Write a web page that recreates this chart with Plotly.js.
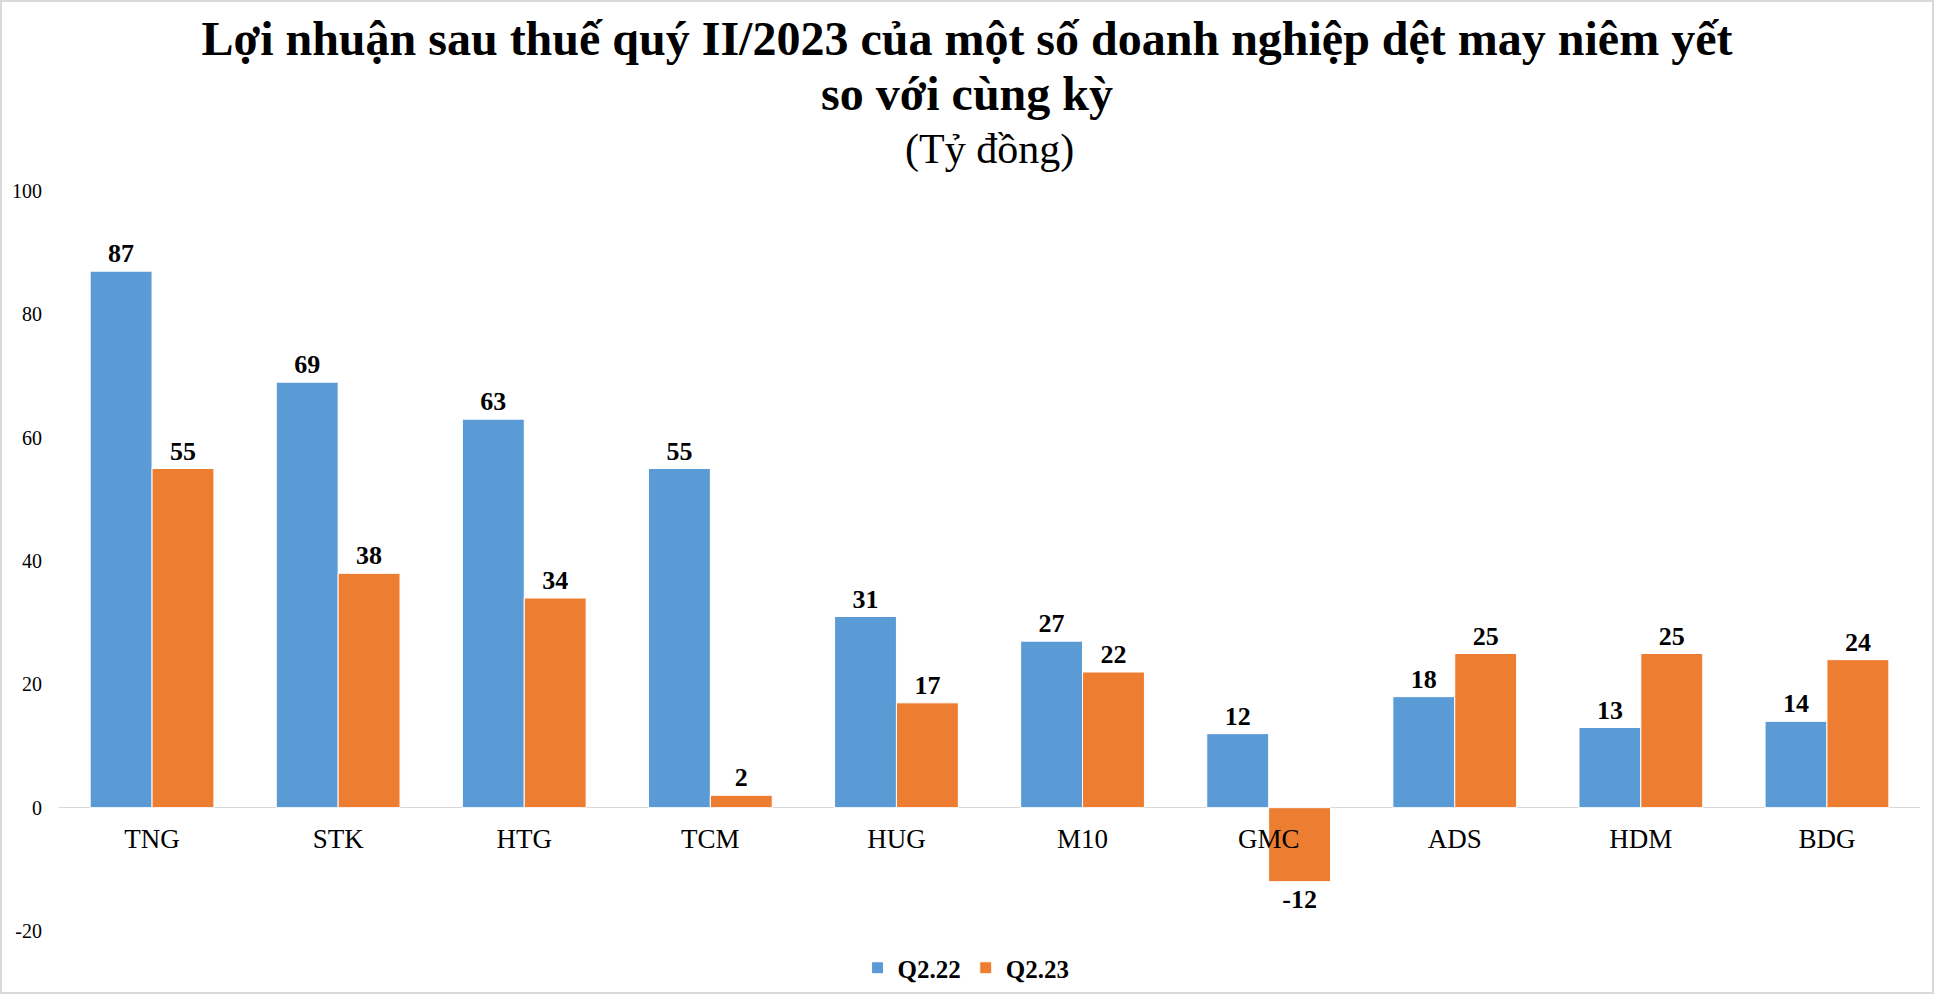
<!DOCTYPE html>
<html>
<head>
<meta charset="utf-8">
<script src="https://cdn.plot.ly/plotly-3.0.1.min.js"></script>
<style>
html,body{margin:0;padding:0;background:#fff;}
#wrap{position:relative;width:1934px;height:994px;}
#chart{width:1934px;height:994px;}
#frame{position:absolute;left:0;top:0;width:1934px;height:994px;box-sizing:border-box;border:2px solid #d9d9d9;pointer-events:none;}
</style>
</head>
<body>
<div id="wrap"><div id="chart"></div><div id="frame"></div></div>
<script>
const categories = ["TNG","STK","HTG","TCM","HUG","M10","GMC","ADS","HDM","BDG"];
const q222 = [87,69,63,55,31,27,12,18,13,14];
const q223 = [55,38,34,2,17,22,-12,25,25,24];
const seriesNames = ["Q2.22","Q2.23"];
const yTicks = [-20,0,20,40,60,80,100];

const serif = "Liberation Serif, Times New Roman, serif";
function barTrace(name, vals, color){
  return {
    type:'bar', name:name, x:categories, y:vals,
    marker:{color:color, line:{color:'#ffffff', width:1}},
    text: vals.map(String), textposition:'outside', cliponaxis:false,
    textfont:{family:serif, size:26, color:'#000', weight:'bold'},
    hoverinfo:'x+y'
  };
}
const data = [barTrace(seriesNames[0], q222, '#5B9BD5'), barTrace(seriesNames[1], q223, '#ED7D31')];

const layout = {
  width:1934, height:994,
  paper_bgcolor:'#fff', plot_bgcolor:'#fff',
  margin:{l:59, r:14, t:191, b:63, pad:0},
  barmode:'group', bargap:0.335, bargroupgap:0,
  showlegend:true,
  title:{
    text:'<span style="font-size:48px"><b>Lợi nhuận sau thuế quý II/2023 của một số doanh nghiệp dệt may niêm yết</b></span><br><span style="font-size:48px"><b>so với cùng kỳ</b></span>',
    font:{family:serif, size:42.3, color:'#000'},
    x:0.5, xref:'container', xanchor:'center',
    y:1-55/994, yref:'container', yanchor:'top'
  },
  annotations:[{
    text:'(Tỷ đồng)', xref:'paper', yref:'paper', x:0.5, y:1, xanchor:'center', yanchor:'bottom',
    yshift:16, showarrow:false, font:{family:serif, size:42, color:'#000'}
  }],
  xaxis:{
    type:'category', anchor:'free', position:20/120, domain:[0,1],
    showline:false, showgrid:false, zeroline:false, ticks:'',
    tickfont:{family:serif, size:27, color:'#000'}, ticklabelstandoff:12,
    automargin:false, fixedrange:true
  },
  yaxis:{
    range:[-20,100], tickvals:yTicks, ticktext:yTicks.map(String),
    showgrid:false, showline:false, ticks:'',
    zeroline:true, zerolinecolor:'#d9d9d9', zerolinewidth:1.5,
    tickfont:{family:serif, size:20, color:'#000'}, ticklabelstandoff:16,
    automargin:false, fixedrange:true
  },
  legend:{
    orientation:'h', x:0.4874, xanchor:'center',
    y:1-968/994, yref:'container', yanchor:'middle',
    font:{family:serif, size:25, color:'#000', weight:'bold'},
    itemclick:false, itemdoubleclick:false
  }
};
Plotly.newPlot('chart', data, layout, {displayModeBar:false, staticPlot:true});
</script>
</body>
</html>
